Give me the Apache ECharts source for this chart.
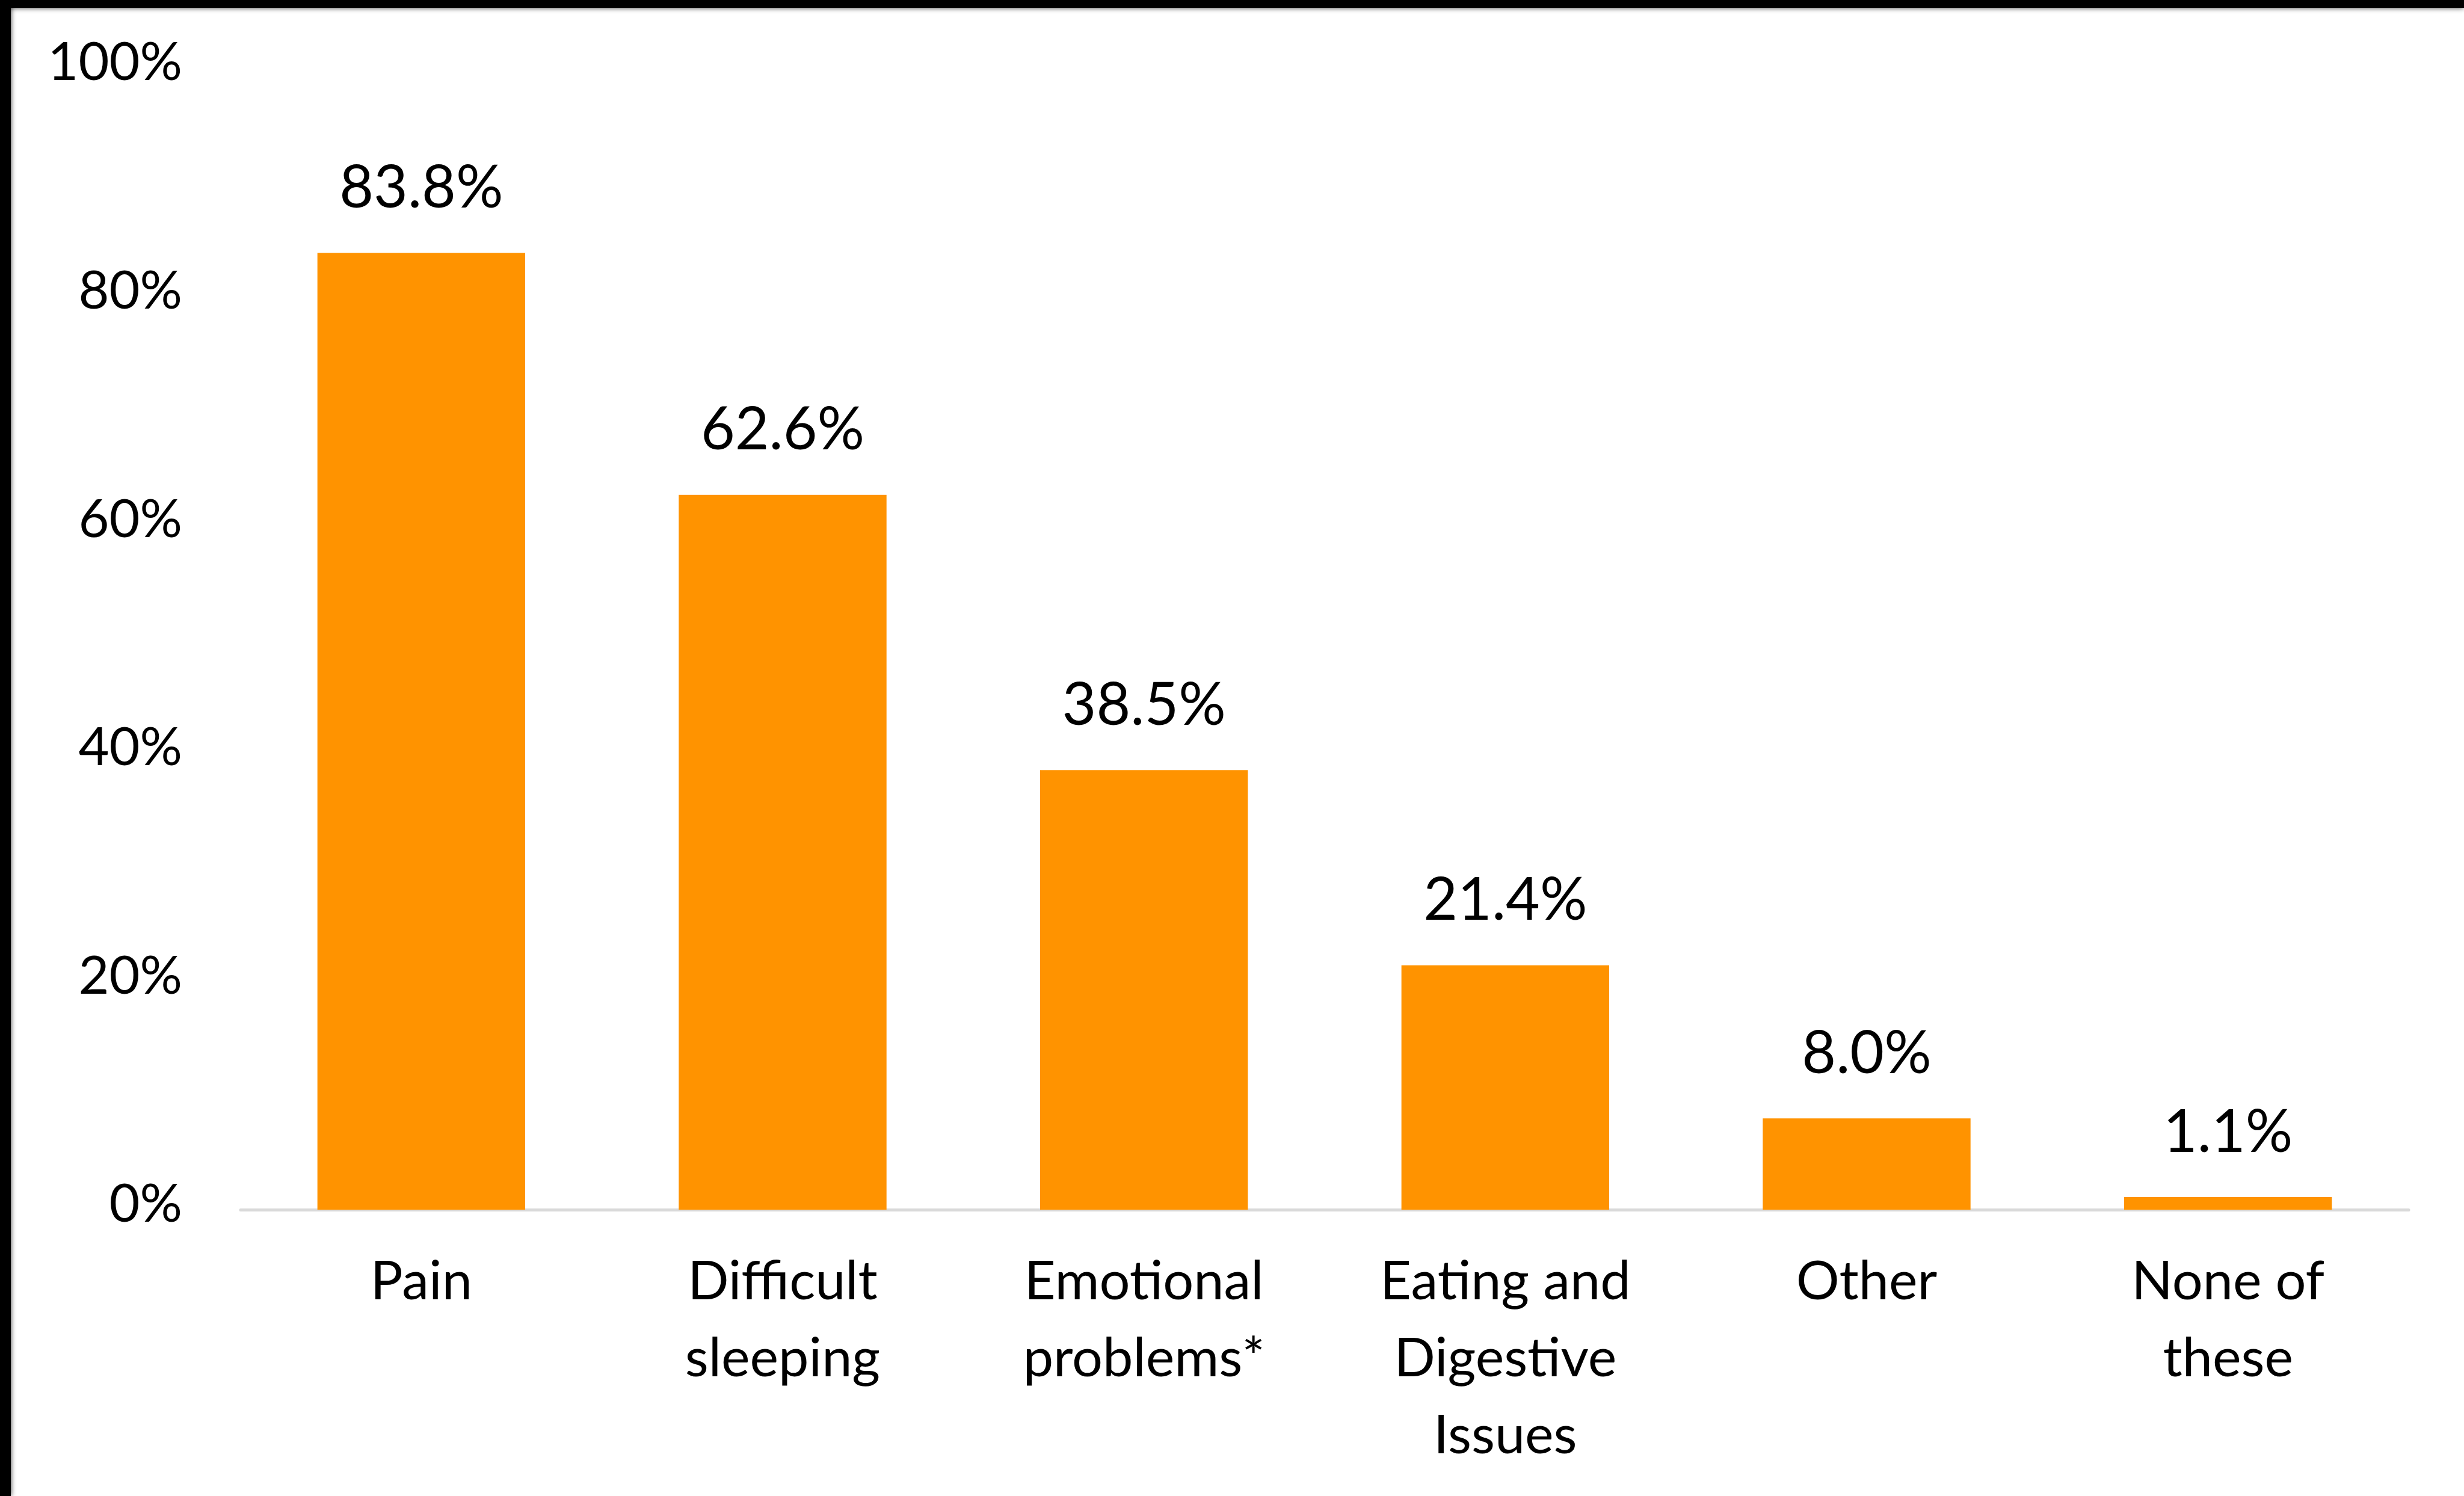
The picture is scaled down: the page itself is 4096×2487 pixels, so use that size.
<!DOCTYPE html>
<html lang="en">
<head>
<meta charset="UTF-8">
<title>Symptoms</title>
<style>
    * { margin: 0; padding: 0; }
    html, body { background: #fff; }
    #chart { width: 4096px; height: 2487px; }
</style>
<script src="https://cdn.jsdelivr.net/npm/echarts@6/dist/echarts.min.js"></script>
</head>
<body>
<div id="chart"></div>
<script>
// data
var categories = ['Pain', 'Difficult\nsleeping', 'Emotional\nproblems*', 'Eating and\nDigestive\nIssues', 'Other', 'None of\nthese'];
var percents = [83.8, 62.6, 38.5, 21.4, 8.0, 1.1];
var yTicks = [0, 20, 40, 60, 80, 100];

var chart = echarts.init(document.getElementById('chart'));

var option = {
    backgroundColor: '#fff',
    animation: false,
    textStyle: { fontFamily: 'Lato', color: '#000' },
    graphic: [
        // black frame on the top and left edges
        { type: 'rect', left: 0, top: 0, shape: { width: 18, height: 2487 }, style: { fill: '#000', shadowBlur: 8, shadowColor: 'rgba(0,0,0,0.8)' }, z: 100 },
        { type: 'rect', left: 0, top: 0, shape: { width: 4096, height: 13 }, style: { fill: '#000', shadowBlur: 8, shadowColor: 'rgba(0,0,0,0.8)' }, z: 100 }
    ],
    grid: {
        left: 400,
        right: 92,
        top: 113,
        bottom: 476,
        containLabel: false
    },
    xAxis: {
        type: 'category',
        data: categories,
        axisLine: { show: true, lineStyle: { color: '#d9d9d9', width: 5 } },
        axisTick: { show: false },
        axisLabel: {
            interval: 0,
            margin: 56,
            fontSize: 90,
            lineHeight: 128,
            color: '#000',
            fontFamily: 'Lato'
        }
    },
    yAxis: {
        type: 'value',
        min: yTicks[0],
        max: yTicks[yTicks.length - 1],
        interval: yTicks[1] - yTicks[0],
        axisLine: { show: false },
        axisTick: { show: false },
        splitLine: { show: false },
        axisLabel: {
            margin: 97,
            fontSize: 88,
            color: '#000',
            fontFamily: 'Lato',
            verticalAlign: 'bottom',
            lineHeight: 16,
            formatter: function (v) { return v + '%'; }
        }
    },
    series: [{
        type: 'bar',
        data: percents,
        barWidth: '57.5%',
        itemStyle: { color: '#ff9300' },
        label: {
            show: true,
            position: 'top',
            distance: 58,
            fontSize: 98,
            color: '#000',
            fontFamily: 'Lato',
            formatter: function (p) { return p.value.toFixed(1) + '%'; }
        }
    }]
};

chart.setOption(option);
</script>
</body>
</html>
